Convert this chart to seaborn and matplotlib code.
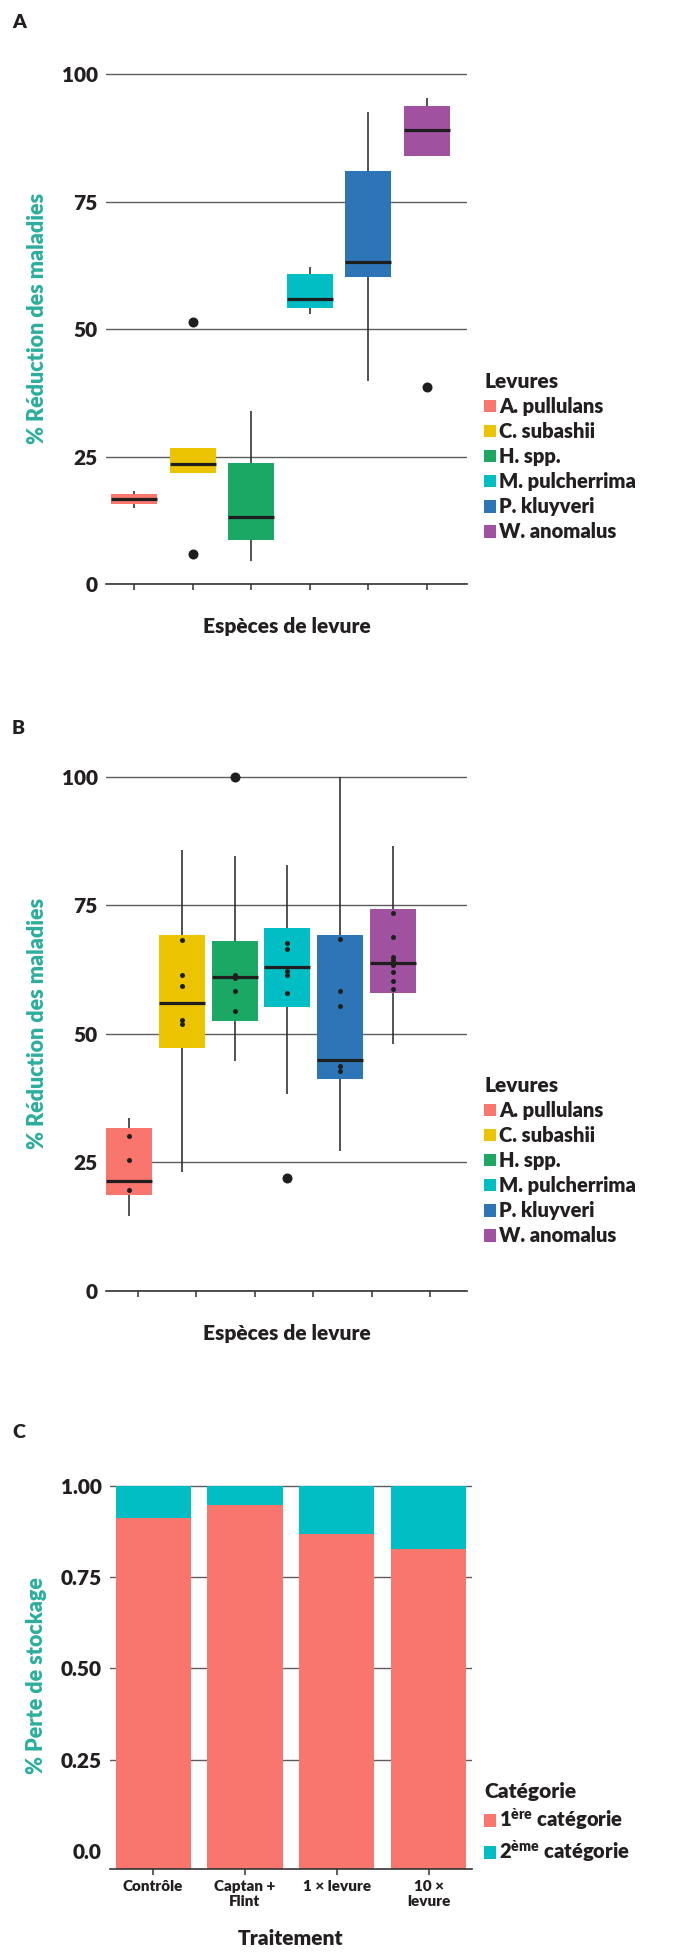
import os
import matplotlib
matplotlib.use("Agg")
import matplotlib.pyplot as plt
from matplotlib import font_manager
from matplotlib.font_manager import FontProperties
from matplotlib.patches import Patch
import seaborn as sns
import pandas as pd

# ==== Data ====
species = ["A. pullulans", "C. subashii", "H. spp.", "M. pulcherrima", "P. kluyveri", "W. anomalus"]
palette = ["#F8766D", "#ECC300", "#1BA864", "#00BEC4", "#2E75B8", "#A052A0"]

# panel A : whisker low, Q1, median, Q3, whisker high
a_low = [15.0, 21.8, 4.6, 52.9, 39.9, 84.0]
a_q1 = [15.7, 21.8, 8.7, 54.2, 60.1, 84.0]
a_med = [16.7, 23.6, 13.1, 55.9, 63.2, 89.0]
a_q3 = [17.6, 26.7, 23.7, 60.8, 81.0, 93.7]
a_high = [18.3, 26.7, 33.9, 62.2, 92.6, 95.2]
a_out_species = ["C. subashii", "C. subashii", "W. anomalus"]
a_out_values = [51.4, 5.9, 38.6]

# panel B
b_low = [14.5, 23.1, 44.7, 38.2, 27.1, 48.1]
b_q1 = [18.7, 47.3, 52.6, 55.3, 41.3, 58.0]
b_med = [21.4, 56.1, 61.1, 63.0, 45.0, 63.8]
b_q3 = [31.7, 69.2, 68.1, 70.6, 69.2, 74.3]
b_high = [33.6, 85.7, 84.6, 82.9, 100.0, 86.5]
b_out_species = ["H. spp.", "M. pulcherrima"]
b_out_values = [100.0, 22.0]
b_dot_species = (["A. pullulans"] * 3 + ["C. subashii"] * 5 + ["H. spp."] * 4
                 + ["M. pulcherrima"] * 5 + ["P. kluyveri"] * 5 + ["W. anomalus"] * 8)
b_dot_values = [30.1, 25.4, 19.7,
                68.2, 61.5, 59.4, 52.7, 52.0,
                61.5, 60.8, 58.4, 54.4,
                67.7, 66.6, 62.3, 61.5, 57.9,
                68.4, 58.3, 55.4, 43.8, 42.8,
                73.6, 68.9, 65.0, 64.3, 63.5, 62.0, 60.2, 58.8]

# panel C
treatments = ["Contrôle", "Captan +\nFlint", "1 × levure", "10 ×\nlevure"]
first_cat = [0.912, 0.947, 0.869, 0.827]
second_cat = [0.088, 0.053, 0.131, 0.173]
cat_labels = ["1$^{\\mathregular{ère}}$ catégorie", "2$^{\\mathregular{ème}}$ catégorie"]
cat_colors = ["#F8766D", "#00BEC4"]

# ==== Style ====
sns.set_theme(style="white")


def pick_font():
    # first preferred family whose heavy/bold request really lands on a heavy file
    for weight, keys in (("heavy", ("heavy", "extrabold", "black")),
                         ("bold", ("bold", "black", "heavy"))):
        for fam in ["Lato", "Inter", "Roboto", "Open Sans", "Noto Sans", "Liberation Sans"]:
            try:
                path = font_manager.findfont(FontProperties(family=fam, weight=weight),
                                             fallback_to_default=False)
            except Exception:
                continue
            name = os.path.basename(path).lower()
            if any(k in name for k in keys):
                return fam, weight
    return "DejaVu Sans", "bold"


FAMILY, WEIGHT = pick_font()
plt.rcParams["font.family"] = [FAMILY, "DejaVu Sans"]
plt.rcParams["font.weight"] = WEIGHT
plt.rcParams["axes.labelweight"] = WEIGHT
plt.rcParams["mathtext.fontset"] = "custom"
plt.rcParams["mathtext.rm"] = FAMILY + ":" + WEIGHT
DARK = "#231F20"
TEAL = "#2BAE9E"
GRID = "#5c5c5c"


def long_frame(*cols):
    rows = []
    for col in cols:
        for sp, v in zip(species, col):
            rows.append({"species": sp, "value": v})
    return pd.DataFrame(rows)


def style_axis(ax, ylabel, xlabel):
    ax.set_axisbelow(True)
    ax.grid(axis="y", color=GRID, linewidth=1.0)
    ax.grid(axis="x", visible=False)
    for s in ["top", "right", "left"]:
        ax.spines[s].set_visible(False)
    ax.spines["bottom"].set_color("#333333")
    ax.spines["bottom"].set_linewidth(1.2)
    ax.tick_params(axis="x", length=4.5, width=1.1, color="#333333", bottom=True)
    ax.tick_params(axis="y", length=0, labelsize=15, labelcolor=DARK, pad=6)
    for t in ax.get_yticklabels():
        t.set_fontweight(WEIGHT)
    ax.set_ylabel(ylabel, color=TEAL, fontsize=15.5, fontweight=WEIGHT, labelpad=10)
    ax.set_xlabel(xlabel, color=DARK, fontsize=15, fontweight=WEIGHT, labelpad=16)


def box_panel(ax, low, q1, med, q3, high, width):
    df = long_frame(low, q1, med, q3, high)
    sns.boxplot(data=df, x="species", y="value", hue="species", order=species,
                hue_order=species, palette=palette, whis=(0, 100), width=width,
                saturation=1, showcaps=False, legend=False, ax=ax,
                boxprops=dict(edgecolor="none", linewidth=0),
                whiskerprops=dict(color="#333333", linewidth=1.2),
                medianprops=dict(color="#1e1e1e", linewidth=2.3))


fig = plt.figure(figsize=(6.83, 19.55), dpi=100)
W, H = 683, 1955

# ---- Panel A ----
axA = fig.add_axes([106 / W, 1 - 584 / H, 361 / W, 530.4 / H])
box_panel(axA, a_low, a_q1, a_med, a_q3, a_high, 0.785)
sns.stripplot(x=a_out_species, y=a_out_values, order=species, jitter=False,
              color="#1e1e1e", size=7.2, ax=axA)
axA.set_xlim(-0.478, 5.683)
axA.set_ylim(0, 104)
axA.set_yticks([0, 25, 50, 75, 100])
axA.set_xticks(range(6))
axA.set_xticklabels([])
style_axis(axA, "% Réduction des maladies", "Espèces de levure")

# ---- Panel B ----
axB = fig.add_axes([106 / W, 1 - 1290.7 / H, 361 / W, 534.2 / H])
box_panel(axB, b_low, b_q1, b_med, b_q3, b_high, 0.87)
sns.stripplot(x=b_out_species, y=b_out_values, order=species, jitter=False,
              color="#1e1e1e", size=7.2, ax=axB)
sns.stripplot(x=b_dot_species, y=b_dot_values, order=species, jitter=False,
              color="#1e1e1e", size=3.6, ax=axB)
axB.set_xlim(-0.436, 6.40)
axB.set_ylim(0, 104)
axB.set_yticks([0, 25, 50, 75, 100])
axB.set_xticks([0.165 + 1.108 * i for i in range(6)])
axB.set_xticklabels([])
style_axis(axB, "% Réduction des maladies", "Espèces de levure")

# legends A & B
handles = [Patch(facecolor=c, edgecolor="none") for c in palette]
for top in (372, 1076):
    leg = fig.legend(handles, species, title="Levures", loc="upper left",
                     bbox_to_anchor=(484 / W, 1 - top / H), frameon=False,
                     title_fontsize=15, handlelength=0.6,
                     handleheight=0.6, handletextpad=0.15, labelspacing=0.3,
                     borderpad=0, borderaxespad=0, alignment="left",
                     prop={"weight": WEIGHT, "size": 14.5})
    leg.get_title().set_fontweight(WEIGHT)
    leg.get_title().set_color(DARK)
    for t in leg.get_texts():
        t.set_color(DARK)

# ---- Panel C ----
axC = fig.add_axes([110 / W, 1 - 1869.3 / H, 361.7 / W, 387.2 / H])
totals = [f + s for f, s in zip(first_cat, second_cat)]
sns.barplot(x=treatments, y=totals, color=cat_colors[1], saturation=1,
            width=0.82, errorbar=None, ax=axC)
sns.barplot(x=treatments, y=first_cat, color=cat_colors[0], saturation=1,
            width=0.82, errorbar=None, ax=axC)
ybot = -0.05
for p in axC.patches:
    top_val = p.get_y() + p.get_height()
    p.set_y(ybot)
    p.set_height(top_val - ybot)
    p.set_edgecolor("none")
axC.set_xlim(-0.47, 3.47)
axC.set_ylim(ybot, 1.01)
axC.set_yticks([0, 0.25, 0.5, 0.75, 1.0])
axC.set_yticklabels(["0.0", "0.25", "0.50", "0.75", "1.00"])
style_axis(axC, "% Perte de stockage", "Traitement")
axC.yaxis.get_gridlines()[0].set_visible(False)
axC.tick_params(axis="x", labelsize=11, labelcolor=DARK, pad=3)
for t in axC.get_xticklabels():
    t.set_fontweight(WEIGHT)
axC.xaxis.labelpad = 15

cat_handles = [Patch(facecolor=c, edgecolor="none") for c in cat_colors]
legC = fig.legend(cat_handles, cat_labels, title="Catégorie", loc="upper left",
                  bbox_to_anchor=(484 / W, 1 - 1782 / H), frameon=False,
                  handlelength=0.6, title_fontsize=15,
                  handleheight=0.6, handletextpad=0.15, labelspacing=0.3,
                  borderpad=0, borderaxespad=0, alignment="left",
                  prop={"weight": WEIGHT, "size": 14.5})
legC.get_title().set_fontweight(WEIGHT)
legC.get_title().set_color(DARK)
for t in legC.get_texts():
    t.set_color(DARK)

# panel letters
for letter, y in (("A", 23), ("B", 728), ("C", 1433)):
    fig.text(12 / W, 1 - y / H, letter, fontsize=14, fontweight=WEIGHT,
             color=DARK, va="center", ha="left")

fig.savefig("out.png", dpi=100)
